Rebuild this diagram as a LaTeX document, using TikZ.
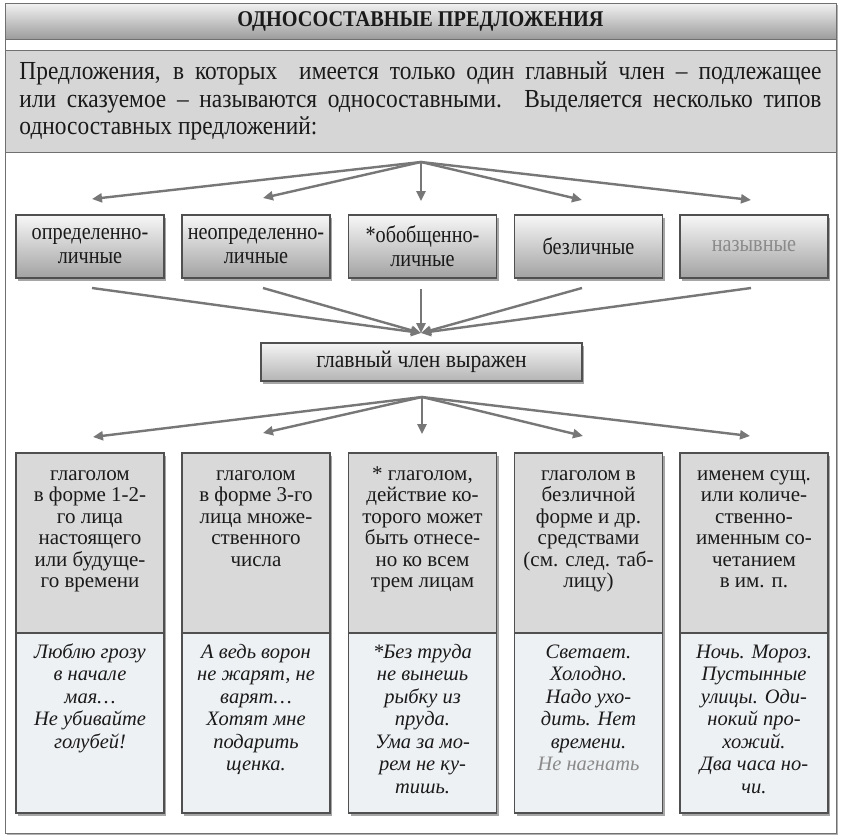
\documentclass[tikz,border=0pt]{standalone}
\usepackage{fontspec}
\setmainfont{Liberation Serif}
\newfontfamily\condfont[FakeStretch=0.9]{Liberation Serif}
\newfontfamily\boxfont[FakeStretch=0.86]{Liberation Serif}
\usetikzlibrary{arrows.meta,shadows}
\definecolor{frameC}{HTML}{707070}
\definecolor{borderC}{HTML}{505050}
\definecolor{txtC}{HTML}{1A1A1A}
\definecolor{greyTxt}{HTML}{8A8A8A}
\definecolor{arrC}{HTML}{777777}
\definecolor{barTop}{HTML}{F2F2F2}
\definecolor{barBot}{HTML}{9C9C9C}
\definecolor{gradTop}{HTML}{F7F7F7}
\definecolor{gradBot}{HTML}{A2A2A2}
\definecolor{midTop}{HTML}{F4F4F4}
\definecolor{midBot}{HTML}{B4B4B4}
\definecolor{paraC}{HTML}{D6D6D6}
\definecolor{upC}{HTML}{D9D9D9}
\definecolor{lowC}{HTML}{EEF1F4}
\begin{document}
\begin{tikzpicture}[x=1pt,y=-1pt,
  every node/.style={text=txtC},
  arr/.style={draw=arrC, line width=2.4pt, -{Triangle[length=10pt,width=9pt]}},
  boxshadow/.style={drop shadow={shadow xshift=2pt,shadow yshift=-2.5pt,opacity=0.35,fill=black}},
  typebox/.style={draw=borderC, line width=1.1pt, top color=gradTop, bottom color=gradBot,
    minimum width=148pt, minimum height=63pt, inner sep=0pt, align=center,
    font=\boxfont\fontsize{23.5}{24}\selectfont, boxshadow},
  midbox/.style={draw=borderC, line width=1.1pt, top color=midTop, bottom color=midBot,
    minimum width=321pt, minimum height=38pt, inner sep=0pt,
    font=\condfont\fontsize{24}{24}\selectfont, boxshadow},
  upbox/.style={draw=borderC, line width=1.1pt, fill=upC, minimum width=148pt,
    minimum height=180pt, inner sep=0pt, boxshadow},
  lowbox/.style={draw=borderC, line width=1.1pt, fill=lowC, minimum width=148pt,
    minimum height=180pt, inner sep=0pt, boxshadow},
  uptxt/.style={anchor=north, align=center, inner sep=0pt, font=\fontsize{21}{21.5}\selectfont},
  lowtxt/.style={anchor=north, align=center, inner sep=0pt, font=\itshape\fontsize{20.5}{22.5}\selectfont}
]
\useasboundingbox (0,0) rectangle (841,838);
% outer frame
\draw[frameC, line width=1pt, fill=white, drop shadow={shadow xshift=1.5pt,shadow yshift=-1.5pt,opacity=0.3,fill=black}] (5,3) rectangle (836,833);
% title bar
\node[draw=frameC, line width=1pt, top color=barTop, bottom color=barBot,
  minimum width=831pt, minimum height=36pt, inner sep=0pt,
  font=\condfont\bfseries\fontsize{22.5}{24}\selectfont] (title) at (420.5,21) {ОДНОСОСТАВНЫЕ ПРЕДЛОЖЕНИЯ};
% paragraph
\node[draw=frameC, line width=1pt, fill=paraC, minimum width=831pt, minimum height=102pt, inner sep=0pt] (para) at (420.5,101)
{\parbox{802pt}{\condfont\fontsize{26}{27.5}\selectfont
\makebox[802pt][s]{Предложения, в которых\ \ имеется только один главный член – подлежащее}\\
\makebox[802pt][s]{или сказуемое – называются односоставными. Выделяется несколько типов}\\
односоставных предложений:}};
% type boxes
\node[typebox] (t1) at (90,246.5) {определенно-\\личные};
\node[typebox] (t2) at (256,246.5) {неопределенно-\\личные};
\node[typebox] (t3) at (422.5,246.5) {*обобщенно-\\личные};
\node[typebox] (t4) at (588.5,246.5) {безличные};
\node[typebox] (t5) at (754,246.5) {\textcolor{greyTxt}{назывные}};
% middle box
\node[midbox] (m) at (421.5,362) {главный член выражен};
% bottom boxes
\foreach \i/\x in {1/90,2/256,3/422.5,4/588.5,5/754}{
  \node[upbox] (u\i) at (\x,543) {};
  \node[lowbox] (l\i) at (\x,723) {};
}
\node[uptxt] (u1t) at (90,464) {\rule{0pt}{16pt}глаголом\\в форме 1-2-\\го лица\\настоящего\\или будуще-\\го времени};
\node[uptxt] (u2t) at (256,464) {\rule{0pt}{16pt}глаголом\\в форме 3-го\\лица множе-\\ственного\\числа};
\node[uptxt] (u3t) at (422.5,464) {\rule{0pt}{16pt}* глаголом,\\действие ко-\\торого может\\быть отнесе-\\но ко всем\\трем лицам};
\node[uptxt] (u4t) at (588.5,464) {\rule{0pt}{16pt}глаголом в\\безличной\\форме и др.\\средствами\\(см. след. таб-\\лицу)};
\node[uptxt] (u5t) at (754,464) {\rule{0pt}{16pt}именем сущ.\\или количе-\\ственно-\\именным со-\\четанием\\в им. п.};
\node[lowtxt] (l1t) at (90,642) {\rule{0pt}{16pt}Люблю грозу\\в начале\\мая…\\Не убивайте\\голубей!};
\node[lowtxt] (l2t) at (256,642) {\rule{0pt}{16pt}А ведь ворон\\не жарят, не\\варят…\\Хотят мне\\подарить\\щенка.};
\node[lowtxt] (l3t) at (422.5,642) {\rule{0pt}{16pt}*Без труда\\не вынешь\\рыбку из\\пруда.\\Ума за мо-\\рем не ку-\\тишь.};
\node[lowtxt] (l4t) at (588.5,642) {\rule{0pt}{16pt}Светает.\\Холодно.\\Надо ухо-\\дить. Нет\\времени.\\\textcolor{greyTxt}{Не нагнать}};
\node[lowtxt] (l5t) at (754,642) {\rule{0pt}{16pt}Ночь. Мороз.\\Пустынные\\улицы. Оди-\\нокий про-\\хожий.\\Два часа но-\\чи.};
% arrows: paragraph -> types
\coordinate (apex1) at (421,162);
\coordinate (h1) at (92,199);
\coordinate (h2) at (263,198);
\coordinate (h3) at (421,201);
\coordinate (h4) at (582,200);
\coordinate (h5) at (751,200);
\foreach \i in {1,...,5}{\draw[arr] (apex1) -- (h\i);}
% arrows: types -> middle
\coordinate (conv) at (421,333);
\coordinate (g1) at (92,288);
\coordinate (g2) at (263,288);
\coordinate (g3) at (421,289);
\coordinate (g4) at (582,288);
\coordinate (g5) at (751,288);
\foreach \i in {1,...,5}{\draw[arr] (g\i) -- (conv);}
% arrows: middle -> bottom
\coordinate (apex2) at (422,397);
\coordinate (k1) at (93,437);
\coordinate (k2) at (263,433);
\coordinate (k3) at (422,434);
\coordinate (k4) at (583,436);
\coordinate (k5) at (750,436);
\foreach \i in {1,...,5}{\draw[arr] (apex2) -- (k\i);}
\end{tikzpicture}
\end{document}
